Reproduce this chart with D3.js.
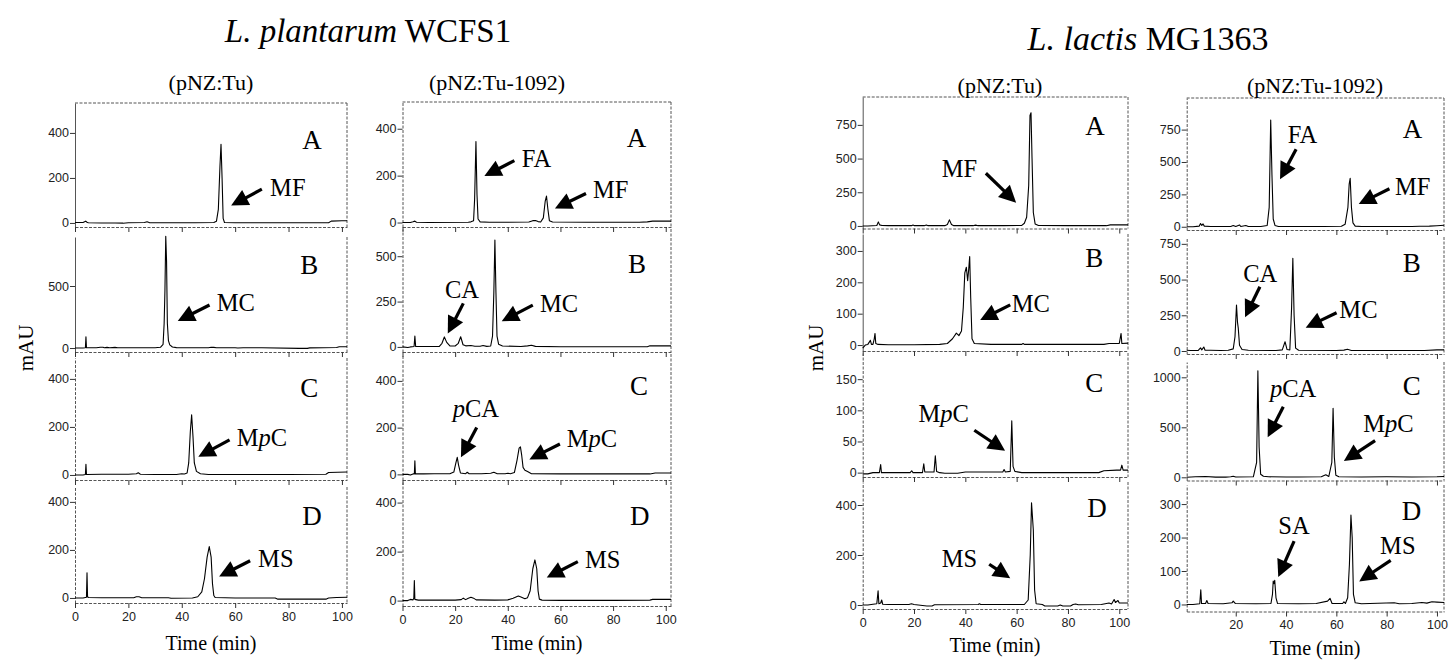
<!DOCTYPE html>
<html><head><meta charset="utf-8">
<script src="https://cdn.jsdelivr.net/npm/d3@7"></script>
<style>body{margin:0;background:#fff}svg{display:block}</style>
</head><body><svg id="c" width="1450" height="661"></svg>
<script>
// ---------------- DATA ----------------
const timeTicks = [0, 20, 40, 60, 80, 100];
const timeTicksLL1092 = [20, 40, 60, 80, 100];

// L. plantarum WCFS1 (pNZ:Tu)
const lpTuA = [[0,2],[3,2],[4,8],[4.5,3],[5,1],[10,0],[15,0],[18,-1],[20,1],[26,2],[27,5],[28,1],[35,1],[45,1],[52,2],[53,8],[53.7,60],[54.3,250],[54.7,350],[55.1,200],[55.5,20],[56,2],[60,1],[80,1],[95,1],[96,8],[100,10],[101.9,10]];
const lpTuB = [[0,0],[3,0],[3.9,2],[4.1,90],[4.3,2],[8,2],[9.5,6],[10.5,6],[11,2],[12,5],[13,2],[15,5],[16,2],[30,2],[32,6],[33,30],[33.4,200],[33.7,470],[34,900],[34.3,700],[34.6,200],[35,60],[35.5,25],[36.5,8],[38,3],[45,2],[50,2],[51,6],[52,5],[53,2],[60,2],[61,0],[63,2],[70,2],[84,-3],[87,-3],[88,1],[98,4],[99,10],[101.9,10]];
const lpTuC = [[0,0],[3,0],[3.9,2],[4.1,44],[4.3,2],[10,3],[20,3],[23,5],[23.7,9],[24.5,3],[30,2],[38,2],[40,5],[41,4],[42,8],[42.6,50],[43.2,180],[43.7,250],[44.2,160],[44.7,50],[45.5,15],[47,5],[50,2],[60,2],[80,2],[94,3],[95,10],[101.9,12]];
const lpTuD = [[0,0],[3,0],[4.3,3],[4.5,105],[4.7,5],[5,2],[10,1],[22,1],[23,5],[24,5],[25,1],[35,1],[36,-1],[44,0],[46,5],[47.5,25],[48.5,80],[49.5,170],[50.3,214],[51,170],[51.5,60],[52,10],[52.5,2],[60,0],[75,0],[76,-5],[94,-5],[95,0],[98,2],[101.9,3]];

// L. plantarum WCFS1 (pNZ:Tu-1092)
const lp1092A = [[0,0],[3,0],[4,3],[4.7,6],[5.3,1],[10,0],[25,1],[26,3],[27,8],[27.4,100],[27.9,345],[28.3,120],[28.7,15],[29.5,3],[33,1],[40,1],[48,2],[49.5,8],[50.5,9],[51.5,4],[52.5,2],[53.5,20],[54.2,90],[54.7,113],[55.2,60],[55.8,8],[57,2],[70,1],[90,1],[93,3],[95,6],[102,6]];
const lp1092B = [[0,0],[2,-3],[3,0],[4.4,2],[4.7,60],[5,2],[8,2],[14,3],[15,20],[15.9,55],[16.8,25],[18,6],[20,5],[21.2,20],[22.1,56],[23,12],[24,6],[26,8],[27.5,4],[29.5,4],[30.6,8],[32,3],[33.5,5],[34.2,60],[34.7,300],[35.1,589],[35.5,300],[35.9,60],[36.5,15],[38,5],[45,2],[47.5,6],[49,9],[50.5,3],[60,1],[80,1],[93,1],[94,6],[102,6]];
const lp1092C = [[0,0],[2,0],[3,-3],[4,2],[4.5,2],[4.7,58],[4.9,2],[8,2],[12,3],[15,3],[18,3],[19.5,10],[20.3,50],[20.8,73],[21.3,40],[22,6],[24,3],[24.6,9],[25.3,3],[30,3],[33.5,5],[34.7,9],[36,3],[39,3],[40,5],[41,3],[42.5,8],[43.5,60],[44.3,112],[44.8,118],[45.3,80],[45.8,30],[46.5,18],[47.5,12],[49,3],[60,2],[80,2],[94,2],[96,6],[102,6]];
const lp1092D = [[0,0],[2,0],[3,5],[4,3],[4.3,10],[4.5,82],[4.7,5],[6,2],[10,2],[15,2],[20,2],[22.3,4],[23.1,10],[24,4],[25,10],[26,14],[27,10],[28,3],[35,2],[40,3],[42,10],[44,19],[45,15],[46.5,8],[47.5,12],[48.5,40],[49.5,130],[50.3,166],[51,130],[51.5,40],[52,6],[53,2],[60,1],[80,1],[94,2],[95,5],[102,5]];

// L. lactis MG1363 (pNZ:Tu)
const llTuA = [[0,0],[2,0],[5.5,3],[6.1,30],[6.6,8],[7.5,3],[10,2],[19,2],[19.6,7],[20.2,2],[24,2],[24.8,7],[25.5,2],[32,2],[33,10],[33.8,45],[34.6,10],[35.5,2],[43,2],[44,6],[45,2],[55,2],[62,4],[63,20],[63.9,65],[64.7,300],[65.2,820],[65.6,840],[66,500],[66.5,100],[67.2,15],[68.5,3],[80,2],[95,2],[96.5,8],[100,8],[103.4,8]];
const llTuB = [[0,-10],[0.5,-5],[1,0],[2,2],[3,15],[3.4,2],[4,2],[4.5,20],[4.8,37],[5.1,5],[6,2],[10,1],[20,1],[30,2],[33,5],[35,20],[36.5,38],[37.5,30],[38.5,45],[39.2,120],[39.8,230],[40.4,248],[40.9,205],[41.3,240],[41.7,282],[42.1,150],[42.6,20],[43.5,5],[50,2],[62,2],[62.5,5],[63,2],[80,2],[94,2],[96,5],[100,5],[100.7,37],[101,5],[103.4,6]];
const llTuC = [[0,-2],[2,-2],[4,0],[6.5,0],[7,13],[7.3,0],[12,0],[18.5,0],[19.1,3],[19.6,0],[23.3,0],[23.8,14],[24.2,1],[27.8,1],[28.3,27],[28.8,2],[30,0],[32,-1],[37,-1],[40,1],[48,1],[54.6,1],[55.1,5],[55.6,1],[57.5,2],[58.1,83],[58.6,10],[59.3,2],[62,0],[80,0],[92,0],[94,3],[99,4],[100.5,4],[101,12],[101.5,4],[103.4,4]];
const llTuD = [[0,0],[2,0],[4,3],[5.5,5],[6,57],[6.3,5],[7,8],[7.4,20],[7.8,3],[10,2],[18,2],[19,5],[20,2],[25,-4],[27,-4],[28,1],[45,2],[45.5,5],[46,2],[63,2],[64.5,20],[65.3,200],[65.8,409],[66.5,300],[67,60],[67.6,5],[70,2],[71,-4],[76,-4],[77,0],[78,-4],[81,-4],[82,2],[83,4],[84,1],[93,2],[96,8],[97,4],[98,22],[98.5,10],[99.5,18],[100,8],[103.4,8]];

// L. lactis MG1363 (pNZ:Tu-1092)
const ll1092A = [[0.5,0],[3,0],[5.5,5],[6,25],[6.5,10],[7,22],[7.5,5],[10,2],[18,2],[19,10],[20,2],[21.5,14],[22,2],[24,10],[25,2],[30,2],[32.5,10],[33.3,150],[33.9,824],[34.4,400],[34.9,60],[35.6,10],[37,2],[55,2],[62,4],[63.5,20],[64.6,150],[65.1,330],[65.5,374],[66,150],[66.6,30],[67.5,5],[70,2],[90,2],[93,4],[97,5],[100,8],[102.8,12]];
const ll1092B = [[0.5,5],[2,3],[5,3],[6,22],[6.5,8],[7.3,28],[7.8,5],[10,5],[14,3],[17,5],[19,15],[19.7,100],[20.3,322],[20.7,200],[21,160],[21.5,40],[22.5,10],[25,5],[36,3],[38.5,8],[39.6,65],[40.4,10],[41.5,8],[42.2,300],[42.7,649],[43.2,250],[43.8,20],[45,5],[60,4],[63,6],[64.4,12],[66,3],[80,4],[95,4],[100,8],[102.8,8]];
const ll1092C = [[0.5,0],[4,5],[8,8],[12,2],[16,2],[18,5],[19,10],[20,3],[27,5],[28.3,150],[28.8,1066],[29.3,300],[29.9,30],[31,10],[33,5],[40,3],[45,3],[54,5],[55.8,25],[57,8],[58.2,150],[58.7,690],[59.2,200],[59.8,20],[61,5],[70,3],[80,5],[90,3],[100,5],[102.8,8]];
const ll1092D = [[0.5,0],[3,0],[5.7,2],[6.1,44],[6.4,3],[8,3],[8.5,12],[9,3],[15,2],[18.5,5],[19,10],[19.8,3],[28,2],[34,3],[34.6,30],[34.9,70],[35.2,62],[35.5,72],[36,20],[36.6,3],[45,2],[52,3],[56.5,10],[57.5,18],[58.3,3],[62.5,3],[63,8],[63.6,3],[64.5,20],[65.2,120],[65.8,267],[66.3,200],[66.8,30],[67.5,5],[70,2],[83,5],[85,2],[90,3],[94,6],[96,4],[98,8],[100,7],[102.8,6]];

// y-axis tick labels and ranges
const yTicks = {
  lpTu:   [[0,200,400],[0,500],[0,200,400],[0,200,400]],
  lp1092: [[0,200,400],[0,250,500],[0,200,400],[0,200,400]],
  llTu:   [[0,250,500,750],[0,100,200,300],[0,50,100,150],[0,200,400]],
  ll1092: [[0,250,500,750],[0,250,500,750],[0,500,1000],[0,100,200,300]]
};
const yRanges = {
  lpTu:   [[-18,533],[-32,895],[-21,487],[-21,462]],
  lp1092: [[-19,514],[-28,650],[-24,515],[-22,484]],
  llTu:   [[-19,957],[-19,354],[-7,192],[-16,492]],
  ll1092: [[-25,994],[-21,798],[-32,1153],[-21,357]]
};
const timeRanges = { lpTu:[0,101.9], lp1092:[0,102], llTu:[0,103.4], ll1092:[0.5,102.8] };

const panelLetters = ['A','B','C','D'];
// letter anchor (time, mAU) per panel
const letterPos = {
  lpTu:   [[85.1,327],[84.4,596],[84.4,326],[85.1,304]],
  lp1092: [[85.2,324],[85.7,407],[86.4,340],[86.4,309]],
  llTu:   [[86.7,675],[86.7,250],[86.7,130],[87.5,353]],
  ll1092: [[86.4,682],[86.4,555],[86.4,823],[86.0,252]]
};
// compound labels: [text, textAt, arrowFrom, arrowTo]  (time, mAU)
const notes = {
  lpTu: [
    [['MF', [73.1,120], [70.0,150], [58.5,77]]],
    [['MC', [53.1,298], [50.4,347], [38.5,218]]],
    [['MpC',[60.6,121], [57.9,146], [46.2,76]]],
    [['MS', [68.6,130], [65.6,155], [54.0,89]]]
  ],
  lp1092: [
    [['FA', [45.3,238], [42.5,264], [31.1,198]], ['MF', [72.4,104], [69.7,124], [57.9,60]]],
    [['CA', [16.1,269], [23.1,240], [17.2,74]], ['MC', [52.2,193], [49.5,230], [37.7,142]]],
    [['pCA',[19.1,247], [28.2,201], [22.2,73]], ['MpC',[62.4,116], [59.8,130], [48.2,64]]],
    [['MS', [69.3,133], [66.6,159], [54.8,94]]]
  ],
  llTu: [
    [['MF', [30.8,364], [48.0,391], [59.8,173]]],
    [['MC', [58.1,106], [57.5,128], [45.8,80]]],
    [['MpC',[21.7,82], [43.5,68], [55.5,35]]],
    [['MS', [30.8,153], [49.3,163], [57.5,107]]]
  ],
  ll1092: [
    [['FA', [40.7,648], [44.0,598], [37.6,366]], ['MF', [83.3,245], [81.1,293], [68.9,175]]],
    [['CA', [23.0,485], [29.6,450], [23.7,236]], ['MC', [61.2,229], [60.1,268], [47.8,163]]],
    [['pCA',[33.6,806], [38.9,706], [32.7,400]], ['MpC',[70.7,453], [75.4,366], [63.0,163]]],
    [['SA', [36.9,210], [43.2,189], [36.9,82]], ['MS', [77.4,152], [81.6,132], [69.1,69]]]
  ]
};
const traces = {
  lpTu: [lpTuA, lpTuB, lpTuC, lpTuD],
  lp1092: [lp1092A, lp1092B, lp1092C, lp1092D],
  llTu: [llTuA, llTuB, llTuC, llTuD],
  ll1092: [ll1092A, ll1092B, ll1092C, ll1092D]
};
const strainTitles = [['L. plantarum',' WCFS1'],['L. lactis',' MG1363']];
const constructLabels = ['(pNZ:Tu)','(pNZ:Tu-1092)','(pNZ:Tu)','(pNZ:Tu-1092)'];
const xAxisTitle = 'Time (min)';
const yAxisTitle = 'mAU';

// ---------------- LAYOUT ----------------
const SERIF = "'Liberation Serif','Times New Roman',Times,serif";
const SANS = "'Liberation Sans',Arial,Helvetica,sans-serif";
const columns = [
  {key:'lpTu',   x0:75,    x1:347,  xt:timeTicks,       sub:[211,90],  tx:[211,650],
   rows:[[103,227],[237,352],[358,480],[487,603]]},
  {key:'lp1092', x0:402.5, x1:671,  xt:timeTicks,       sub:[497,90],  tx:[537,650],
   rows:[[102,227],[229,352],[354,480],[482,606]]},
  {key:'llTu',   x0:862.7, x1:1128, xt:timeTicks,       sub:[1000,93], tx:[995,652],
   rows:[[97,228.5],[234,351],[353,477],[482,609]]},
  {key:'ll1092', x0:1186.7,x1:1444, xt:timeTicksLL1092, sub:[1315,93], tx:[1315,655],
   rows:[[98,230],[237,354],[362,480.5],[485,611.5]]}
];

const svg = d3.select('#c');
const frameColor = '#555';

columns.forEach((col, ci) => {
  const x = d3.scaleLinear().domain(timeRanges[col.key]).range([col.x0, col.x1]);
  col.rows.forEach((r, ri) => {
    const [top, bottom] = r;
    const y = d3.scaleLinear().domain(yRanges[col.key][ri]).range([bottom, top]);
    const g = svg.append('g');
    g.append('line').attr('x1', col.x1).attr('x2', col.x1).attr('y1', top).attr('y2', bottom)
      .attr('stroke', frameColor).attr('stroke-width', 1).attr('stroke-dasharray', '3,1.5');
    if (ri === 0) {
      g.append('line').attr('x1', col.x0).attr('x2', col.x1).attr('y1', top).attr('y2', top)
        .attr('stroke', frameColor).attr('stroke-width', 1).attr('stroke-dasharray', '3,1.5');
    }
    const ya = g.append('g').attr('transform', `translate(${col.x0},0)`)
      .call(d3.axisLeft(y).tickValues(yTicks[col.key][ri]).tickSize(5).tickSizeOuter(0).tickPadding(1).tickFormat(d3.format('d')));
    ya.select('.domain').attr('stroke', frameColor).attr('stroke-dasharray', ci % 2 === 0 && ri < 2 ? null : '3,1.5');
    ya.selectAll('.tick line').attr('stroke', '#333');
    ya.selectAll('.tick text').attr('font-family', SANS).attr('font-size', 12.5).attr('fill', '#222');
    const xa = g.append('g').attr('transform', `translate(0,${bottom})`)
      .call(d3.axisBottom(x).tickValues(col.xt).tickSize(5).tickSizeOuter(0).tickPadding(4)
        .tickFormat(ri === 3 ? d3.format('d') : () => ''));
    xa.select('.domain').attr('stroke', frameColor).attr('stroke-dasharray', '3,1.5');
    xa.selectAll('.tick line').attr('stroke', '#333');
    xa.selectAll('.tick text').attr('font-family', SANS).attr('font-size', 12.5).attr('fill', '#222');
    g.append('path').datum(traces[col.key][ri])
      .attr('fill', 'none').attr('stroke', '#000').attr('stroke-width', 1.1).attr('stroke-linejoin', 'round')
      .attr('d', d3.line().x(d => x(d[0])).y(d => y(d[1])));
    const lp = letterPos[col.key][ri];
    g.append('text').attr('x', x(lp[0])).attr('y', y(lp[1]))
      .attr('font-family', SERIF).attr('font-size', 27).text(panelLetters[ri]);
    notes[col.key][ri].forEach(([label, at, from, to]) => {
      const t = g.append('text').attr('x', x(at[0])).attr('y', y(at[1]))
        .attr('font-family', SERIF).attr('font-size', 24.5);
      const m = label.match(/^(M?)(p?)(.*)$/);
      if (m[2]) {
        if (m[1]) t.append('tspan').text(m[1]);
        t.append('tspan').attr('font-style', 'italic').text('p');
        t.append('tspan').text(m[3]);
      } else {
        t.text(label);
      }
      const x1 = x(from[0]), y1 = y(from[1]), x2 = x(to[0]), y2 = y(to[1]);
      const dx = x2 - x1, dy = y2 - y1, len = Math.hypot(dx, dy);
      const ux = dx / len, uy = dy / len, px = -uy, py = ux;
      const L = 17, W = 8.5;
      const bx = x2 - ux * L, by = y2 - uy * L;
      g.append('line').attr('x1', x1).attr('y1', y1).attr('x2', bx + ux * 2).attr('y2', by + uy * 2)
        .attr('stroke', '#000').attr('stroke-width', 3.2);
      g.append('path').attr('fill', '#000')
        .attr('d', `M${x2},${y2}L${bx + px * W},${by + py * W}L${bx - px * W},${by - py * W}Z`);
    });
  });
  svg.append('text').attr('x', col.sub[0]).attr('y', col.sub[1]).attr('text-anchor', 'middle')
    .attr('font-family', SERIF).attr('font-size', 22).text(constructLabels[ci]);
  svg.append('text').attr('x', col.tx[0]).attr('y', col.tx[1]).attr('text-anchor', 'middle')
    .attr('font-family', SERIF).attr('font-size', 20).text(xAxisTitle);
});

[[33, 348], [823, 348]].forEach(([xx, yy]) => {
  svg.append('text').attr('transform', `translate(${xx},${yy}) rotate(-90)`).attr('text-anchor', 'middle')
    .attr('font-family', SERIF).attr('font-size', 21).text(yAxisTitle);
});

[[368, 42], [1148, 50]].forEach(([xx, yy], i) => {
  const t = svg.append('text').attr('x', xx).attr('y', yy).attr('text-anchor', 'middle')
    .attr('font-family', SERIF).attr('font-size', i === 0 ? 33 : 34);
  t.append('tspan').attr('font-style', 'italic').text(strainTitles[i][0]);
  t.append('tspan').text(strainTitles[i][1]);
});
</script></body></html>
